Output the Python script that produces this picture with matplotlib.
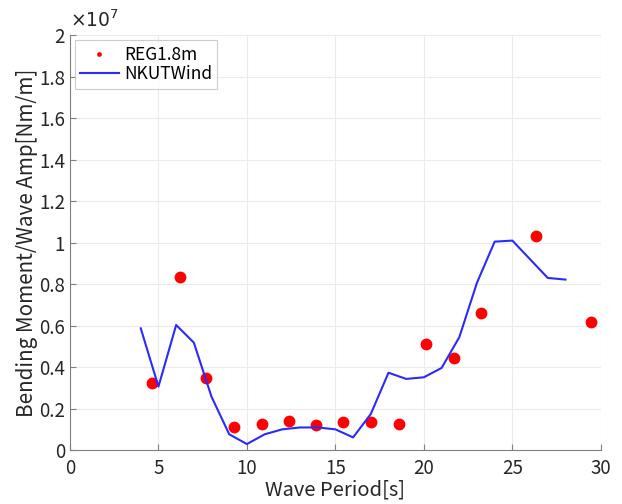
import matplotlib
matplotlib.use('Agg')
import matplotlib.pyplot as plt
import numpy as np
from matplotlib.ticker import FuncFormatter, MultipleLocator

plt.rcParams['font.family'] = ['Noto Sans CJK JP', 'DejaVu Sans']

scale = 1e7

# REG1.8m measured points
reg_period = [4.64, 6.2, 7.71, 9.27, 10.83, 12.37, 13.89, 15.45,
              17.03, 18.61, 20.1, 21.69, 23.23, 26.32, 29.42]
reg_amp = [0.322, 0.836, 0.347, 0.109, 0.127, 0.142, 0.122, 0.135,
           0.137, 0.125, 0.511, 0.442, 0.663, 1.033, 0.619]

# NKUTWind computed line
nk_period = list(range(4, 29))
nk_amp = [0.587, 0.306, 0.603, 0.518, 0.257, 0.076, 0.029, 0.076, 0.100,
          0.109, 0.109, 0.100, 0.061, 0.174, 0.373, 0.343, 0.351, 0.396,
          0.544, 0.807, 1.005, 1.010, 0.920, 0.830, 0.822]

fig = plt.figure(figsize=(6.22, 5.04), dpi=100)
ax = fig.add_axes([0.1125, 0.107, 0.8535, 0.823])

ax.plot(reg_period, np.array(reg_amp) * scale, 'o', color='#ff0000',
        markersize=8.5, label='REG1.8m', markeredgewidth=0)
ax.plot(nk_period, np.array(nk_amp) * scale, '-', color='#2a2aff',
        linewidth=1.5, label='NKUTWind')

ax.set_xlim(0, 30)
ax.set_ylim(0, 2 * scale)
ax.xaxis.set_major_locator(MultipleLocator(5))
ax.yaxis.set_major_locator(MultipleLocator(0.2 * scale))
ax.yaxis.set_major_formatter(FuncFormatter(lambda v, p: '%g' % round(v / scale, 2)))

ax.grid(True, color='#ebebeb', linewidth=0.8)
ax.set_axisbelow(True)
for s in ['top', 'right']:
    ax.spines[s].set_visible(False)
for s in ['left', 'bottom']:
    ax.spines[s].set_color('#808080')
ax.tick_params(direction='in', colors='#262626', labelsize=13.5, length=4,
               color='#808080')
ax.tick_params(axis='x', pad=6)

ax.set_xlabel('Wave Period[s]', fontsize=14.5, color='#262626', labelpad=0)
ax.set_ylabel('Bending Moment/Wave Amp[Nm/m]', fontsize=14.8, color='#262626',
              labelpad=1)
ax.text(0.0, 1.008, r'$\times 10^7$', transform=ax.transAxes, fontsize=13.5,
        color='#262626', ha='left', va='bottom')

leg = ax.legend(loc='upper left', fontsize=12.5, frameon=True, fancybox=False,
                borderpad=0.3, handlelength=2.2, handletextpad=0.3,
                labelspacing=0.1, borderaxespad=0.3, markerscale=0.4)
leg.get_frame().set_edgecolor('#c0c0c0')
leg.get_frame().set_linewidth(0.8)

fig.savefig('out.png', dpi=100)
